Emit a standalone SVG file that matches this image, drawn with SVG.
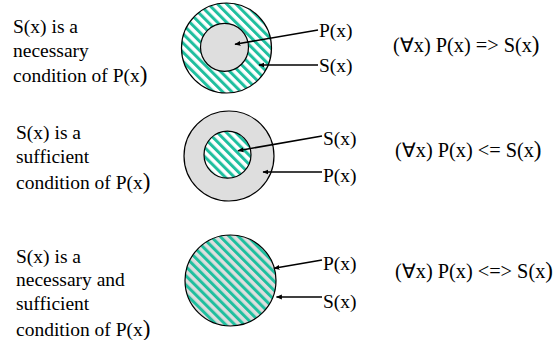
<svg xmlns="http://www.w3.org/2000/svg" width="555" height="340" viewBox="0 0 555 340">
<style>
text{font-family:'Liberation Serif','Times New Roman',serif;font-size:19.5px;fill:#000}
.f{font-size:20.3px}
.big{font-size:23px}
.c{stroke:#000;stroke-width:1.2}
.ln{stroke:#000;stroke-width:1.6;fill:none;marker-end:url(#ah)}
</style>
<defs>
<pattern id="hw" patternUnits="userSpaceOnUse" width="6.5" height="6.5" patternTransform="rotate(-45)">
<rect width="6.5" height="6.5" fill="#fff"/>
<rect x="0" y="0" width="3" height="6.5" fill="#1fbf9f"/>
</pattern>
<pattern id="hg" patternUnits="userSpaceOnUse" width="6.5" height="6.5" patternTransform="rotate(-45)">
<rect width="6.5" height="6.5" fill="#dedede"/>
<rect x="0" y="0" width="3" height="6.5" fill="#1fbf9f"/>
</pattern>
<marker id="ah" viewBox="0 0 10 10" refX="9" refY="5" markerWidth="6" markerHeight="6" markerUnits="userSpaceOnUse" orient="auto">
<path d="M0,1 L10,5 L0,9 z" fill="#000"/>
</marker>
</defs>

<g id="node1">
<circle class="c" cx="226.5" cy="48" r="45" fill="url(#hw)"/>
<circle class="c" cx="224.5" cy="47.3" r="24" fill="#dedede"/>
<text x="13" y="33">S(x) is a</text>
<text x="13" y="57">necessary</text>
<text x="13" y="82">condition of P(x<tspan class="big">)</tspan></text>
<text x="319" y="37">P(x)</text>
<text x="319" y="72">S(x)</text>
<text class="f" x="393" y="52">(∀x) P(x) =&gt; S(x<tspan class="big">)</tspan></text>
</g>

<g id="node2">
<circle class="c" cx="229" cy="156" r="45" fill="#dedede"/>
<circle class="c" cx="227.5" cy="154.7" r="23.5" fill="url(#hw)"/>
<text x="16" y="139">S(x) is a</text>
<text x="16" y="163">sufficient</text>
<text x="16" y="189">condition of P(x<tspan class="big">)</tspan></text>
<text x="323" y="145">S(x)</text>
<text x="323" y="182">P(x)</text>
<text class="f" x="395" y="157">(∀x) P(x) &lt;= S(x<tspan class="big">)</tspan></text>
</g>

<g id="node3">
<circle class="c" cx="230.5" cy="280.5" r="45.5" fill="url(#hg)"/>
<text x="16" y="263">S(x) is a</text>
<text x="16" y="286">necessary and</text>
<text x="16" y="310">sufficient</text>
<text x="16" y="336">condition of P(x<tspan class="big">)</tspan></text>
<text x="323" y="270">P(x)</text>
<text x="323" y="308">S(x)</text>
<text class="f" x="395" y="278">(∀x) P(x) &lt;=&gt; S(x<tspan class="big">)</tspan></text>
</g>

<g id="connectors">
<line class="ln" x1="318" y1="30" x2="235" y2="44.3"/>
<line class="ln" x1="318" y1="65" x2="259" y2="65"/>
<line class="ln" x1="322" y1="136" x2="238" y2="150.7"/>
<line class="ln" x1="322" y1="172" x2="263" y2="172"/>
<line class="ln" x1="322" y1="260" x2="274" y2="268.3"/>
<line class="ln" x1="322" y1="297" x2="276.5" y2="297"/>
</g>
</svg>
